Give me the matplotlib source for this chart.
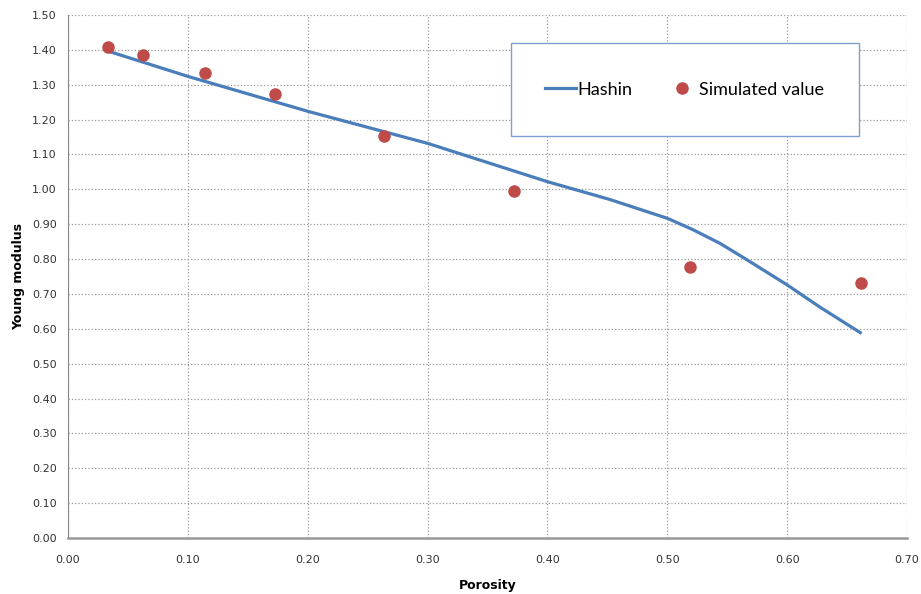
import matplotlib
matplotlib.use("Agg")
import matplotlib.pyplot as plt
from matplotlib.patches import Rectangle

# Hashin curve
hashin_x = [0.033, 0.101, 0.201, 0.300, 0.400, 0.452, 0.500, 0.521, 0.544, 0.566, 0.600, 0.627, 0.661]
hashin_y = [1.397, 1.323, 1.223, 1.132, 1.022, 0.971, 0.917, 0.885, 0.845, 0.799, 0.726, 0.663, 0.589]

# simulated points
sim_x = [0.033, 0.063, 0.114, 0.173, 0.264, 0.372, 0.519, 0.662]
sim_y = [1.409, 1.385, 1.335, 1.273, 1.153, 0.994, 0.778, 0.732]

x_ticks = [0.0, 0.1, 0.2, 0.3, 0.4, 0.5, 0.6, 0.7]
y_ticks = [i / 10 for i in range(16)]

fig = plt.figure(figsize=(9.21, 5.94), dpi=100)
ax = fig.add_axes([0.0738, 0.0943, 0.911, 0.8804])

ax.plot(hashin_x, hashin_y, '-', color='#4a7ebb', lw=2.3, label='Hashin',
        solid_joinstyle='round', zorder=3)
ax.plot(sim_x, sim_y, 'o', color='#be4b48', ms=8, mec='#be4b48', label='Simulated value', zorder=4)

ax.set_xlim(0, 0.7)
ax.set_ylim(0, 1.5)
ax.set_xticks(x_ticks)
ax.set_yticks(y_ticks)
ax.set_xticklabels(['%.2f' % v for v in x_ticks])
ax.set_yticklabels(['%.2f' % v for v in y_ticks])
ax.tick_params(length=0, labelsize=8, colors='#333333', pad=8)
ax.tick_params(axis='x', pad=12)
ax.grid(True, linestyle=':', color='#999999', lw=0.9)
ax.set_axisbelow(True)

for s in ['top', 'right']:
    ax.spines[s].set_visible(False)
ax.spines['left'].set_color('#888888')
ax.spines['bottom'].set_color('#999999')
ax.spines['bottom'].set_linewidth(1.8)

ax.set_xlabel('Porosity', fontsize=9, fontweight='bold', labelpad=10)
ax.set_ylabel('Young modulus', fontsize=9, fontweight='bold', labelpad=5)

# legend box
box = Rectangle((0.528, 0.769), 0.415, 0.177, transform=ax.transAxes,
                facecolor='white', edgecolor='#7f9fcf', lw=1.0, zorder=5)
ax.add_patch(box)
leg = ax.legend(loc='center', bbox_to_anchor=(0.735, 0.857), ncol=2, frameon=False,
                prop={'family': 'Lato', 'size': 13}, handlelength=1.7, handletextpad=0.1,
                columnspacing=1.9)
leg.set_zorder(6)

fig.savefig('out.png', dpi=100)
